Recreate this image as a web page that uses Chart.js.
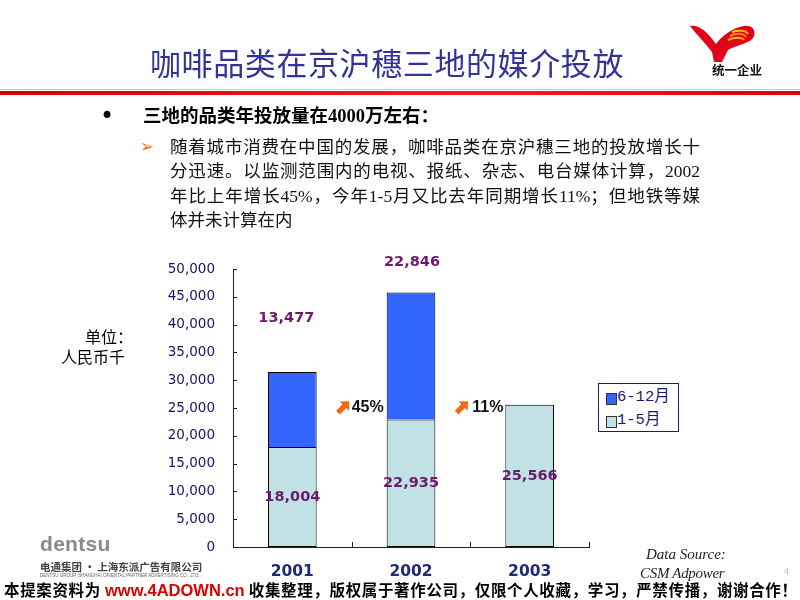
<!DOCTYPE html>
<html>
<head>
<meta charset="utf-8">
<script src="https://cdn.jsdelivr.net/npm/chart.js@4/dist/chart.umd.min.js"></script>
<style>
  html,body{margin:0;padding:0;background:#fff;}
  #page{position:relative;width:800px;height:600px;overflow:hidden;background:#fff;}
  #chart{position:absolute;left:0;top:0;}
  .abs{position:absolute;white-space:nowrap;}
  .cjk{font-family:"Noto Sans CJK SC","DejaVu Sans",sans-serif;}
  #title{left:150px;top:44px;font-size:31px;line-height:36px;color:#333399;letter-spacing:0.6px;}
  #redline{left:0;top:91px;width:800px;height:4px;background:linear-gradient(to right,#d40000,#ff1a1a 60%,#e00000);}
  #redline2{left:0;top:89px;width:800px;height:1px;background:#f6b0b0;}
  #bullet{left:100px;top:102px;font-size:24px;line-height:28px;color:#000;font-family:"DejaVu Sans",sans-serif;}
  #head{left:143px;top:103px;font-size:18.5px;line-height:26px;font-weight:bold;color:#000;font-family:"Liberation Serif","Noto Sans CJK SC",serif;}
  #arrowb{left:140px;top:135px;font-size:17px;line-height:22px;color:#f07020;font-weight:bold;font-family:"DejaVu Sans",sans-serif;}
  .body{left:170px;width:530px;font-size:17.5px;line-height:24px;color:#111;font-family:"Liberation Serif","Noto Sans CJK SC",serif;text-align:justify;text-align-last:justify;}
  .body.last{text-align-last:left;}
  #unit1{left:85px;top:325px;font-size:16px;line-height:22px;color:#000;}
  #unit2{left:61px;top:345px;font-size:16px;line-height:22px;color:#000;}
  #legend{left:598px;top:383px;width:79px;height:47px;border:1px solid #1a1a6e;background:#fff;}
  .lsw{position:absolute;left:7px;width:9px;height:10px;border:1px solid #333;}
  .ltx{position:absolute;left:18px;font-size:15.5px;line-height:18px;color:#1a1a6e;font-family:"Liberation Mono","Noto Sans CJK SC",monospace;}
  #dentsu{left:40px;top:532px;font-size:21px;line-height:24px;font-weight:bold;color:#8a8a8a;font-family:"Liberation Sans",sans-serif;letter-spacing:0.3px;}
  #dentsu2{left:40px;top:560px;font-size:10.5px;line-height:13px;color:#444;font-weight:bold;}
  #dentsu3{left:40px;top:573px;font-size:4.5px;line-height:6px;color:#666;font-family:"Liberation Sans",sans-serif;}
  #ds1{left:646px;top:545px;font-size:15px;line-height:18px;font-style:italic;color:#222;font-family:"Liberation Serif",serif;}
  #ds2{left:640px;top:564px;font-size:15px;line-height:18px;font-style:italic;color:#222;font-family:"Liberation Serif",serif;letter-spacing:-0.3px;}
  #pnum{left:784px;top:566px;font-size:9px;color:#bbb;font-family:"Liberation Sans",sans-serif;}
  #banner{left:4px;top:578px;width:793px;font-size:15.5px;line-height:22px;font-weight:bold;color:#000;text-align:justify;text-align-last:justify;}
  #banner .url{color:#e00000;font-family:"Liberation Sans",sans-serif;font-size:16.5px;}
  #logo{left:688px;top:22px;}
  #logotext{left:712px;top:62px;font-size:12.5px;line-height:16px;font-weight:bold;color:#111;}
</style>
</head>
<body>
<div id="page">
  <canvas id="chart" width="800" height="600"></canvas>

  <div id="title" class="abs cjk">咖啡品类在京沪穗三地的媒介投放</div>
  <svg id="logo" class="abs" width="70" height="42" viewBox="0 0 70 42">
    <path d="M2 4 C10 2 20 10 28 22 C34 14 44 6 56 4 C64 3 68 8 66 14 C63 22 50 22 40 28 L34 40 L26 40 L24 30 C18 22 10 14 2 4 Z" fill="#e3001b"/>
    <path d="M44 10 C50 8 58 8 60 12" stroke="#f6c000" stroke-width="2" fill="none"/>
    <path d="M42 14 C48 11 56 11 58 15" stroke="#ff8a00" stroke-width="2" fill="none"/>
    <path d="M40 18 C46 15 54 15 56 18" stroke="#f6c000" stroke-width="2" fill="none"/>
  </svg>
  <div id="logotext" class="abs cjk">统一企业</div>
  <div id="redline2" class="abs"></div>
  <div id="redline" class="abs"></div>

  <div id="bullet" class="abs">•</div>
  <div id="head" class="abs">三地的品类年投放量在4000万左右：</div>
  <div id="arrowb" class="abs">➢</div>
  <div class="abs body" style="top:135px;">随着城市消费在中国的发展，咖啡品类在京沪穗三地的投放增长十</div>
  <div class="abs body" style="top:159px;">分迅速。以监测范围内的电视、报纸、杂志、电台媒体计算，2002</div>
  <div class="abs body" style="top:184px;">年比上年增长45%，今年1-5月又比去年同期增长11%；但地铁等媒</div>
  <div class="abs body last" style="top:208px;">体并未计算在内</div>

  <div id="unit1" class="abs cjk">单位：</div>
  <div id="unit2" class="abs cjk">人民币千</div>

  <div id="legend" class="abs">
    <div class="lsw" id="sw0" style="top:9px;"></div>
    <div class="ltx" id="lt0" style="top:4px;"></div>
    <div class="lsw" id="sw1" style="top:32px;"></div>
    <div class="ltx" id="lt1" style="top:27px;"></div>
  </div>

  <div id="dentsu" class="abs">dentsu</div>
  <div id="dentsu2" class="abs cjk">电通集团 · 上海东派广告有限公司</div>
  <div id="dentsu3" class="abs">DENTSU GROUP, SHANGHAI ORIENTAL PARTNER ADVERTISING CO., LTD.</div>
  <div id="ds1" class="abs">Data Source:</div>
  <div id="ds2" class="abs">CSM Adpower</div>
  <div id="pnum" class="abs">4</div>
  <div id="banner" class="abs cjk">本提案资料为 <span class="url">www.4ADOWN.cn</span> 收集整理，版权属于著作公司，仅限个人收藏，学习，严禁传播，谢谢合作！</div>
</div>

<script>
// ---- data ----
const categories = ['2001', '2002', '2003'];
const seriesNames = ['1-5月', '6-12月'];
const janMay = [18004, 22935, 25566];      // 1-5月
const junDec = [13477, 22846, null];       // 6-12月
const yTickValues = [0, 5000, 10000, 15000, 20000, 25000, 30000, 35000, 40000, 45000, 50000];
const growthLabels = ['45%', '11%'];       // between 2001/2002 and 2002/2003

// ---- styles ----
const colJanMay = '#c0e2e4';
const colJunDec = '#3366ff';
const axisColor = '#1a1a5e';
const labelColor = '#6e1a6c';

document.getElementById('sw0').style.background = colJunDec;
document.getElementById('lt0').textContent = seriesNames[1];
document.getElementById('sw1').style.background = colJanMay;
document.getElementById('lt1').textContent = seriesNames[0];

const fmt = v => v.toLocaleString('en-US');

function drawArrow(ctx, cx, cy) {
  ctx.save();
  ctx.translate(cx, cy);
  ctx.rotate(-Math.PI / 4);
  ctx.fillStyle = '#f26a10';
  ctx.beginPath();
  ctx.moveTo(-8, -2.6);
  ctx.lineTo(1, -2.6);
  ctx.lineTo(1, -6.5);
  ctx.lineTo(8, 0);
  ctx.lineTo(1, 6.5);
  ctx.lineTo(1, 2.6);
  ctx.lineTo(-8, 2.6);
  ctx.closePath();
  ctx.fill();
  ctx.restore();
}

const overlay = {
  id: 'overlay',
  afterDatasetsDraw(chart, args, opts) {
    const { ctx, chartArea } = chart;
    const x = chart.scales.x, y = chart.scales.y;
    ctx.save();
    // inside tick marks
    ctx.strokeStyle = axisColor;
    ctx.lineWidth = 1;
    ctx.beginPath();
    y.ticks.forEach(t => {
      const py = Math.round(y.getPixelForValue(t.value)) + 0.5;
      ctx.moveTo(chartArea.left, py);
      ctx.lineTo(chartArea.left + 4, py);
    });
    const half = (x.getPixelForValue(1) - x.getPixelForValue(0)) / 2;
    for (let i = 0; i <= categories.length; i++) {
      const px = Math.round(x.getPixelForValue(i) - half) + 0.5;
      ctx.moveTo(px, chartArea.bottom);
      ctx.lineTo(px, chartArea.bottom - 5);
    }
    ctx.stroke();

    // value labels
    ctx.fillStyle = labelColor;
    ctx.font = 'bold 14.5px "DejaVu Sans"';
    ctx.textAlign = 'center';
    ctx.textBaseline = 'middle';
    const m0 = chart.getDatasetMeta(0);
    m0.data.forEach((bar, i) => {
      ctx.fillText(fmt(janMay[i]), bar.x, (bar.y + bar.base) / 2);
    });
    const m1 = chart.getDatasetMeta(1);
    m1.data.forEach((bar, i) => {
      if (junDec[i] == null) return;
      const off = opts.topOffsets[i];
      ctx.fillText(fmt(junDec[i]), bar.x + off[0], bar.y + off[1]);
    });

    // growth annotations
    ctx.font = 'bold 16px "Liberation Sans Narrow", "Liberation Sans"';
    ctx.fillStyle = '#111';
    ctx.textAlign = 'left';
    growthLabels.forEach((g, i) => {
      const bx = x.getPixelForValue(i) + half;
      const by = y.getPixelForValue(opts.growthLevel);
      drawArrow(ctx, bx - 8, by);
      ctx.fillText(g, bx + opts.growthTextGap[i], by + 1);
    });
    ctx.restore();
  }
};

new Chart(document.getElementById('chart'), {
  type: 'bar',
  data: {
    labels: categories,
    datasets: [
      { label: seriesNames[0], data: janMay, backgroundColor: colJanMay, borderColor: '#000', borderWidth: 1, borderSkipped: false },
      { label: seriesNames[1], data: junDec, backgroundColor: colJunDec, borderColor: '#000', borderWidth: { top: 1, left: 1, right: 1, bottom: 0 }, borderSkipped: false }
    ]
  },
  options: {
    responsive: false,
    animation: false,
    events: [],
    layout: { padding: { left: 0, top: 269, right: 211, bottom: 0 } },
    datasets: { bar: { categoryPercentage: 1, barPercentage: 0.41 } },
    plugins: {
      legend: { display: false },
      tooltip: { enabled: false },
      overlay: { topOffsets: [[-6, -54], [1, -30]], growthLevel: 25200, growthTextGap: [0, 2] }
    },
    scales: {
      x: {
        stacked: true,
        grid: { display: false, drawTicks: false, offset: true },
        border: { display: true, color: axisColor, width: 1 },
        ticks: { color: '#1f2a7a', font: { family: 'DejaVu Sans', size: 15.5, weight: 'bold' }, padding: 16 },
        afterFit(s) { s.height = 53; }
      },
      y: {
        stacked: true,
        min: 0,
        max: 50000,
        afterBuildTicks(s) { s.ticks = yTickValues.map(v => ({ value: v })); },
        grid: { display: false, drawTicks: false },
        border: { display: true, color: axisColor, width: 1 },
        ticks: { color: '#14146b', font: { family: 'DejaVu Sans', size: 13.5 }, padding: 18, callback: v => fmt(v) },
        afterFit(s) { s.width = 233; }
      }
    }
  },
  plugins: [overlay]
});
</script>
</body>
</html>
